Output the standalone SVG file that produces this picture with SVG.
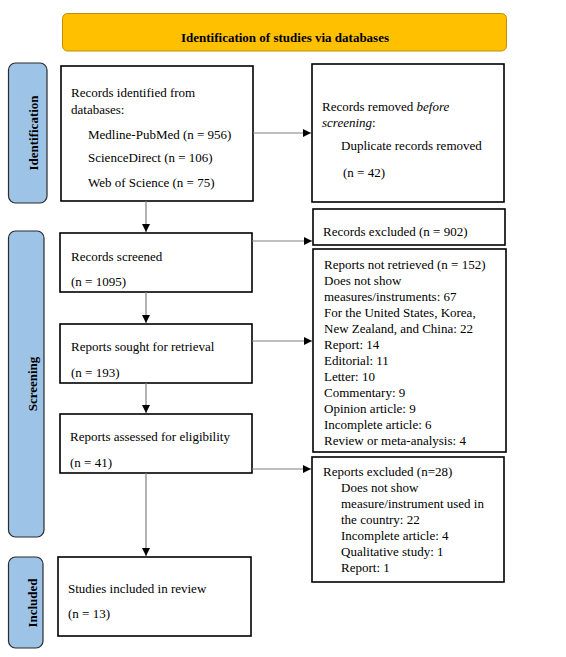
<svg xmlns="http://www.w3.org/2000/svg" width="566" height="657" viewBox="0 0 566 657">
<style>
text{font-family:"Liberation Serif","Times New Roman",serif;font-size:13px;fill:#000}
.b{font-weight:bold}
.box{fill:#fff;stroke:#000;stroke-width:1.6}
.tab{fill:#9DC3E6;stroke:#2b2b2b;stroke-width:1.2}
.con{stroke:#808080;stroke-width:1.2;fill:none;marker-end:url(#ah)}
</style>
<defs>
<marker id="ah" viewBox="0 0 10 10" refX="10" refY="5" markerWidth="8" markerHeight="8" markerUnits="userSpaceOnUse" orient="auto">
<path d="M0,0 L10,5 L0,10 z" fill="#000"/>
</marker>
</defs>
<rect width="566" height="657" fill="#fff"/>
<g id="banner">
<rect x="62.5" y="13.5" width="444" height="37.5" rx="5" fill="#FFC000" stroke="#BF9000" stroke-width="1"/>
<text class="b" x="285" y="42" text-anchor="middle">Identification of studies via databases</text>
</g>
<g id="tab-identification">
<rect class="tab" x="8.5" y="63" width="38.5" height="140" rx="7"/>
<text class="b" transform="translate(37.5,133) rotate(-90)" text-anchor="middle">Identification</text>
</g>
<g id="tab-screening">
<rect class="tab" x="8.5" y="231" width="35.5" height="306" rx="7"/>
<text class="b" transform="translate(36.5,384) rotate(-90)" text-anchor="middle">Screening</text>
</g>
<g id="tab-included">
<rect class="tab" x="8.5" y="557" width="34.5" height="91" rx="7"/>
<text class="b" transform="translate(36.5,603) rotate(-90)" text-anchor="middle">Included</text>
</g>
<g id="identified">
<rect class="box" x="61" y="66" width="192" height="135"/>
<text x="71" y="97">Records identified from</text>
<text x="71" y="114">databases:</text>
<text x="88" y="139">Medline-PubMed (n = 956)</text>
<text x="88" y="162">ScienceDirect (n = 106)</text>
<text x="88" y="187">Web of Science (n = 75)</text>
</g>
<g id="removed">
<rect class="box" x="312" y="64" width="192" height="138"/>
<text x="322" y="111">Records removed <tspan font-style="italic">before</tspan></text>
<text x="322" y="127"><tspan font-style="italic">screening</tspan>:</text>
<text x="341" y="150">Duplicate records removed</text>
<text x="343" y="177">(n = 42)</text>
</g>
<g id="screened">
<rect class="box" x="60" y="233" width="192" height="59"/>
<text x="71" y="261">Records screened</text>
<text x="71" y="286">(n = 1095)</text>
</g>
<g id="excluded">
<rect class="box" x="313" y="209" width="192" height="36"/>
<text x="323" y="236">Records excluded (n = 902)</text>
</g>
<g id="sought">
<rect class="box" x="60" y="324" width="192" height="59"/>
<text x="71" y="351">Reports sought for retrieval</text>
<text x="71" y="377">(n = 193)</text>
</g>
<g id="not-retrieved">
<rect class="box" x="313" y="249" width="193" height="203"/>
<text x="324" y="269">Reports not retrieved (n = 152)</text>
<text x="324" y="285">Does not show</text>
<text x="324" y="301">measures/instruments: 67</text>
<text x="324" y="317">For the United States, Korea,</text>
<text x="324" y="333">New Zealand, and China: 22</text>
<text x="324" y="349">Report: 14</text>
<text x="324" y="365">Editorial: 11</text>
<text x="324" y="381">Letter: 10</text>
<text x="324" y="397">Commentary: 9</text>
<text x="324" y="413">Opinion article: 9</text>
<text x="324" y="429">Incomplete article: 6</text>
<text x="324" y="445">Review or meta-analysis: 4</text>
</g>
<g id="assessed">
<rect class="box" x="60" y="414" width="192" height="59"/>
<text x="70" y="441">Reports assessed for eligibility</text>
<text x="70" y="467">(n = 41)</text>
</g>
<g id="reports-excluded">
<rect class="box" x="312" y="457" width="192" height="125"/>
<text x="323" y="476">Reports excluded (n=28)</text>
<text x="341" y="492">Does not show</text>
<text x="341" y="508">measure/instrument used in</text>
<text x="341" y="524">the country: 22</text>
<text x="341" y="540">Incomplete article: 4</text>
<text x="341" y="556">Qualitative study: 1</text>
<text x="341" y="572">Report: 1</text>
</g>
<g id="included">
<rect class="box" x="58" y="557" width="193" height="79"/>
<text x="68" y="593">Studies included in review</text>
<text x="68" y="618">(n = 13)</text>
</g>
<g id="connectors">
<line class="con" x1="253" y1="133" x2="311" y2="133"/>
<line class="con" x1="146" y1="201" x2="146" y2="232"/>
<line class="con" x1="252" y1="241" x2="312" y2="241"/>
<line class="con" x1="146" y1="292" x2="146" y2="323"/>
<line class="con" x1="252" y1="341" x2="312" y2="341"/>
<line class="con" x1="146" y1="383" x2="146" y2="413"/>
<line class="con" x1="252" y1="469" x2="311" y2="469"/>
<line class="con" x1="146" y1="473" x2="146" y2="556"/>
</g>
</svg>
